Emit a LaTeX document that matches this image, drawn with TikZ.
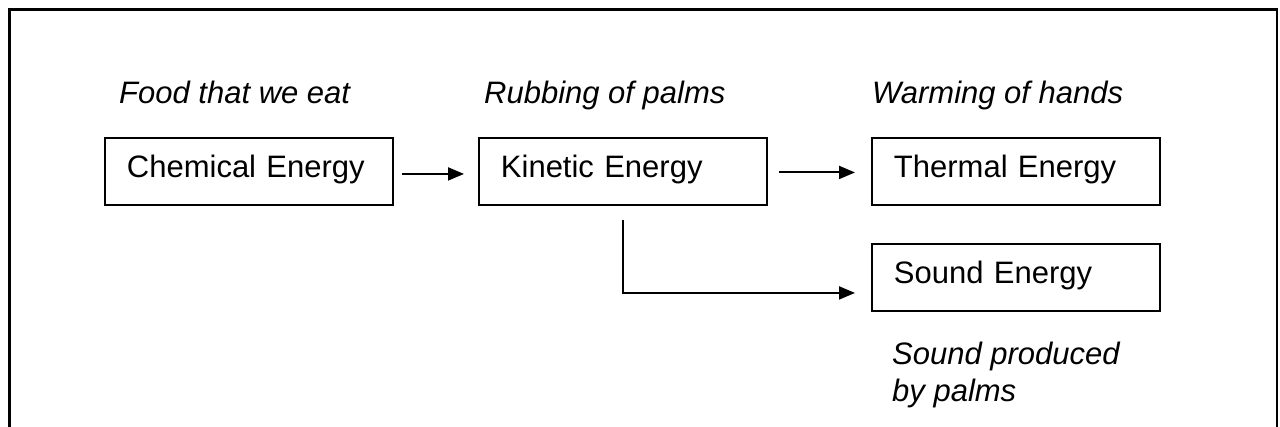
\documentclass[tikz,border=0pt]{standalone}
\usepackage{fontspec}
\setmainfont{Liberation Sans}
\usetikzlibrary{arrows.meta}
\tikzset{
  every picture/.style={x=1pt,y=-1pt},
  energybox/.style={draw, line width=1.9pt, rectangle, anchor=north west,
    minimum width=288pt, minimum height=67pt, text width=244pt,
    inner xsep=22pt, inner ysep=0pt, align=left,
    text height=40pt, text depth=27pt,
    font=\fontsize{31}{36}\selectfont},
  caption/.style={inner sep=0pt, align=left,
    font=\fontsize{31}{37}\selectfont\itshape},
  flow/.style={line width=1.9pt, -{Triangle[length=16pt,width=13pt]}},
}
\begin{document}
\begin{tikzpicture}
  \useasboundingbox (0,0) rectangle (1280,427);
  % open frame round the diagram
  \draw[line width=2.6pt] (9.5,440) -- (9.5,9.5) -- (1277,9.5) -- (1277,440);

  % energy forms
  \node[energybox] (chem)  at (104,137) {Chemical Energy};
  \node[energybox] (kin)   at (478,137) {Kinetic Energy};
  \node[energybox] (therm) at (871,137) {Thermal Energy};
  \node[energybox] (sound) at (871,243) {Sound Energy};

  % captions
  \node[caption, anchor=base west] (capfood) at (119,104) {Food that we eat};
  \node[caption, anchor=base west] (caprub)  at (484,104) {Rubbing of palms};
  \node[caption, anchor=base west] (capwarm) at (872,104) {Warming of hands};
  \node[caption, anchor=north west] (capsound) at (892,342) {Sound produced\\by palms};

  % conversions
  \draw[flow] ([xshift=8pt,yshift=-2.5pt]chem.east) -- ([xshift=-14pt,yshift=-2.5pt]kin.west);
  \draw[flow] ([xshift=11pt,yshift=-1pt]kin.east) -- ([xshift=-16pt,yshift=-1pt]therm.west);
  \coordinate (soundin) at ([xshift=-16pt,yshift=-15.5pt]sound.west);
  \coordinate (bend) at (kin.south |- soundin);
  \draw[flow] ([yshift=-14pt]kin.south) -- (bend) -- (soundin);
\end{tikzpicture}
\end{document}
